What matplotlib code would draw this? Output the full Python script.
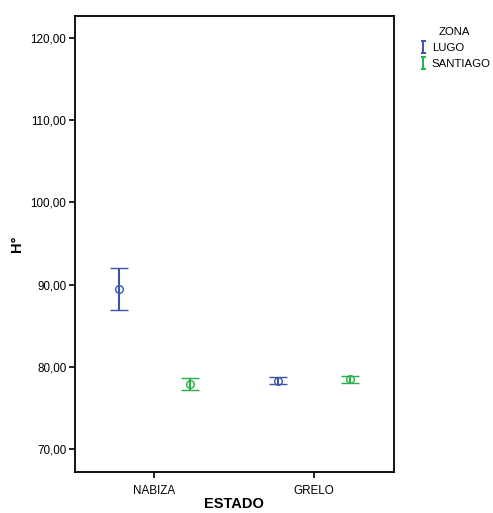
import matplotlib
matplotlib.use("Agg")
import matplotlib.pyplot as plt
from matplotlib.lines import Line2D
from matplotlib.path import Path
import numpy as np

plt.rcParams["font.family"] = ["Liberation Sans", "DejaVu Sans"]

# data
categories = ["NABIZA", "GRELO"]
zones = ["LUGO", "SANTIAGO"]
lugo_mean = [89.50, 78.31]
lugo_low = [86.91, 77.90]
lugo_high = [92.06, 78.72]
sant_mean = [77.91, 78.49]
sant_low = [77.21, 78.06]
sant_high = [78.67, 78.91]
yticks = [70, 80, 90, 100, 110, 120]

BLUE = "#3A55A8"
GREEN = "#22B24A"

fig = plt.figure(figsize=(4.93, 5.13), dpi=100)
ax = fig.add_axes([0.1515, 0.0799, 0.6475, 0.8889])

x = np.arange(len(categories))
offset = 0.225
series = [
    (lugo_mean, lugo_low, lugo_high, BLUE, -offset),
    (sant_mean, sant_low, sant_high, GREEN, offset),
]
for mean, low, high, color, dx in series:
    mean = np.array(mean)
    err = [mean - np.array(low), np.array(high) - mean]
    ax.errorbar(x + dx, mean, yerr=err, fmt="o", color=color, ecolor=color,
                markerfacecolor="none", markeredgecolor=color, markersize=5.5,
                markeredgewidth=1.0, elinewidth=1.5, capsize=6.8, capthick=1.5)

ax.set_xlim(-0.5, 1.5)
ax.set_ylim(67.2, 122.68)
ax.set_xticks(x)
ax.set_xticklabels(categories)
ax.set_yticks(yticks)
ax.set_yticklabels([f"{v:.2f}".replace(".", ",") for v in yticks])
ax.tick_params(axis="both", labelsize=8.4, length=4, width=1.2, direction="out", pad=2)
ax.tick_params(axis="x", pad=5)
for sp in ax.spines.values():
    sp.set_linewidth(1.3)

ax.set_xlabel("ESTADO", fontsize=10.5, fontweight="bold", labelpad=0)
ax.set_ylabel("H°", fontsize=10.5, fontweight="bold", labelpad=5)

# I-shaped legend marker
ipath = Path([(-0.45, 1), (0.45, 1), (0, 1), (0, -1), (-0.45, -1), (0.45, -1)],
             [Path.MOVETO, Path.LINETO, Path.MOVETO, Path.LINETO, Path.MOVETO, Path.LINETO])
handles = [Line2D([0], [0], linestyle="none", marker=ipath, markersize=8,
                  markeredgewidth=1.4, color=c, markerfacecolor="none", label=z)
           for z, c in zip(zones, [BLUE, GREEN])]
leg = fig.legend(handles=handles, title="ZONA", loc="upper left",
                 bbox_to_anchor=(0.834, 0.962), frameon=False, fontsize=8.2,
                 title_fontsize=8.2, handlelength=0.6, handletextpad=0.5,
                 labelspacing=0.5, borderpad=0.2)

fig.savefig("out.png", dpi=100)
